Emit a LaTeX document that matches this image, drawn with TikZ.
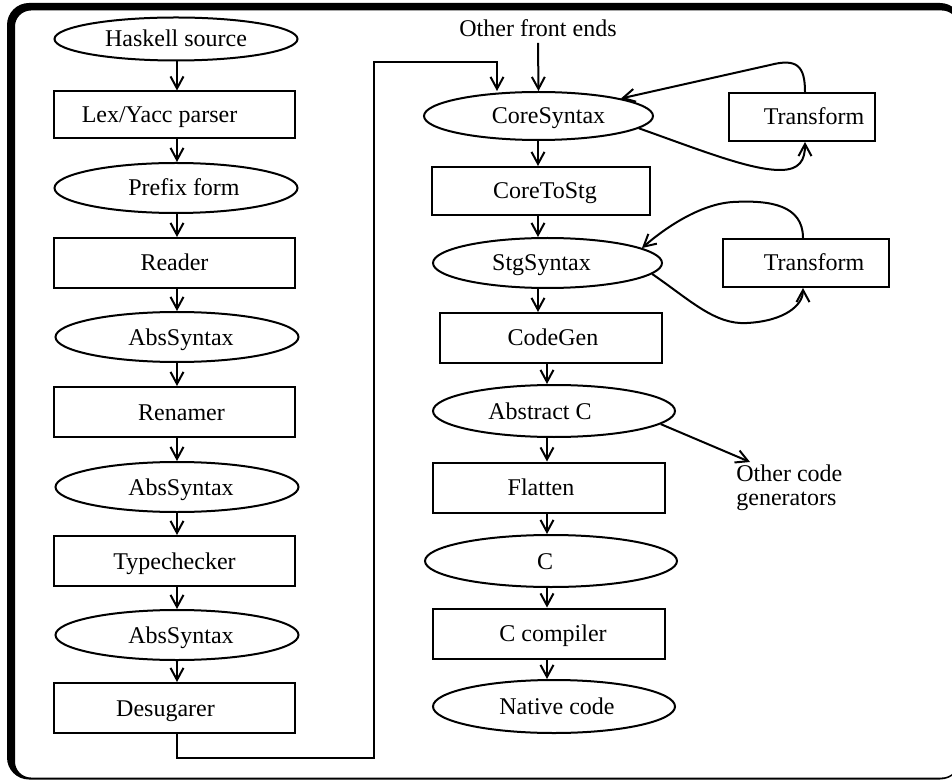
\documentclass[tikz,border=0pt]{standalone}
\usepackage{fontspec}
\setmainfont{Liberation Serif}
\usetikzlibrary{shapes.geometric,arrows.meta}
% nudge a label sideways inside its fixed-width node (amount in pt of padding)
\newcommand{\TxtR}[2]{\hspace*{#1pt}#2}
\newcommand{\TxtL}[2]{#2\hspace*{#1pt}}
\begin{document}
\begin{tikzpicture}[x=0.5pt,y=-0.5pt,
  every node/.style={font=\fontsize{12}{12}\selectfont},
  shapetext/.style={text height=8pt,text depth=0pt},
  procbox/.style={draw,line width=1pt,rectangle,inner sep=0pt,minimum height=25pt,shapetext},
  dataoval/.style={draw,line width=1pt,ellipse,inner sep=0pt,minimum height=25pt,shapetext},
  arr/.style={line width=1pt,-{Straight Barb[length=6pt,width=6.5pt]}},
  label/.style={inner sep=0pt}]
\useasboundingbox (0,0) rectangle (952,780);

% heavy rounded frame (thick on the top and left, thin along the bottom)
\fill[even odd rule,rounded corners=11pt] (7,3) rectangle (962,779.5)
  [rounded corners=8pt] (15,10.5) rectangle (958,777.5);

% columns for the vertical connectors
\coordinate (colL) at (177,0);
\coordinate (colR1) at (538,0);
\coordinate (colR2) at (547,0);

% front end
\node[dataoval,minimum width=121.5pt,minimum height=21.5pt] (hs) at (176,39) {Haskell source};
\node[procbox, minimum width=120.5pt,minimum height=23.5pt] (lex) at (174.5,115) {\TxtL{15}{Lex/Yacc parser}};
\node[dataoval,minimum width=121.5pt] (pf)  at (176,188)   {\TxtR{8}{Prefix form}};
\node[procbox, minimum width=120.5pt] (rd)  at (174.5,263) {Reader};
\node[dataoval,minimum width=121.5pt] (as1) at (177,337)   {\TxtR{4}{AbsSyntax}};
\node[procbox, minimum width=120.5pt] (rn)  at (174.5,412) {\TxtR{7}{Renamer}};
\node[dataoval,minimum width=121.5pt] (as2) at (177,487)   {\TxtR{4}{AbsSyntax}};
\node[procbox, minimum width=120.5pt] (tc)  at (174.5,561) {Typechecker};
\node[dataoval,minimum width=121.5pt] (as3) at (177,635)   {\TxtR{4}{AbsSyntax}};
\node[procbox, minimum width=120.5pt] (ds)  at (174.5,708) {\TxtL{9}{Desugarer}};

% back end
\node[label,inner sep=3pt] (ofe) at (538,28) {Other front ends};
\node[dataoval,minimum width=114.5pt,minimum height=24pt] (cs) at (538.5,116) {\TxtR{10}{CoreSyntax}};
\node[procbox, minimum width=109pt,minimum height=24pt] (cts) at (541,191) {\TxtR{4}{CoreToStg}};
\node[dataoval,minimum width=114.5pt] (stg) at (547.5,263) {\TxtL{6}{StgSyntax}};
\node[procbox, minimum width=111pt]   (cg)  at (551,338)   {\TxtR{2}{CodeGen}};
\node[dataoval,minimum width=121pt,minimum height=26pt] (ac) at (554,411) {\TxtL{14}{Abstract C}};
\node[procbox, minimum width=116pt]   (fl)  at (549,487.5) {\TxtL{8}{Flatten}};
\node[dataoval,minimum width=126pt,minimum height=26pt] (cc) at (551,561) {\TxtL{6}{C}};
\node[procbox, minimum width=116pt]   (ccomp) at (549,633.5) {\TxtR{4}{C compiler}};
\node[dataoval,minimum width=121pt,minimum height=26.5pt] (nc) at (554,706.5) {\TxtR{3}{Native code}};

\node[procbox, minimum width=73pt,minimum height=24pt] (t1) at (802,117) {\TxtR{12}{Transform}};
\node[procbox, minimum width=83pt,minimum height=24pt] (t2) at (806,263) {\TxtR{8}{Transform}};

\node[label,align=left,anchor=north west] (ocg) at (736,464) {Other code\\generators};

% straight pipeline arrows
\foreach \a/\b in {hs/lex,lex/pf,pf/rd,rd/as1,as1/rn,rn/as2,as2/tc,tc/as3,as3/ds}
  \draw[arr] (\a.south -| colL) -- (\b.north -| colL);
\foreach \a/\b in {cs/cts,cts/stg,stg/cg}
  \draw[arr] (\a.south -| colR1) -- (\b.north -| colR1);
\foreach \a/\b in {cg/ac,ac/fl,fl/cc,cc/ccomp,ccomp/nc}
  \draw[arr] (\a.south -| colR2) -- (\b.north -| colR2);

% desugared program joins the core pipeline
\coordinate (turnLow)  at (374,758);
\coordinate (turnHigh) at (374,62);
\coordinate (entry)    at (497,62);
\draw[arr] (ds.south -| colL) |- (turnLow) -- (turnHigh) -- (entry) -- (entry |- cs.north);
\draw[arr] (ofe.south) -- (cs.north);

% Core-to-Core transformation loop
\draw[arr] (cs.-7) .. controls (700,150) and (750,170) .. (780,170)
  .. controls (800,170) and (805,160) .. ([xshift=1.5pt]t1.south);
\draw[arr] ([xshift=1.5pt]t1.north) .. controls (805,66) and (797,58) .. (770,65)
  -- (cs.12);

% STG-to-STG transformation loop
\draw[arr] (stg.-6) .. controls (690,300) and (715,325) .. (747,323)
  .. controls (785,321) and (803,305) .. ([xshift=-1.5pt]t2.south);
\draw[arr] ([xshift=-1.5pt]t2.north) .. controls (803,205) and (770,200) .. (733,202)
  .. controls (700,204) and (665,228) .. (stg.9);

% alternative code generators
\draw[arr] (ac.-7) -- ([xshift=7pt,yshift=1pt]ocg.north west);
\end{tikzpicture}
\end{document}
